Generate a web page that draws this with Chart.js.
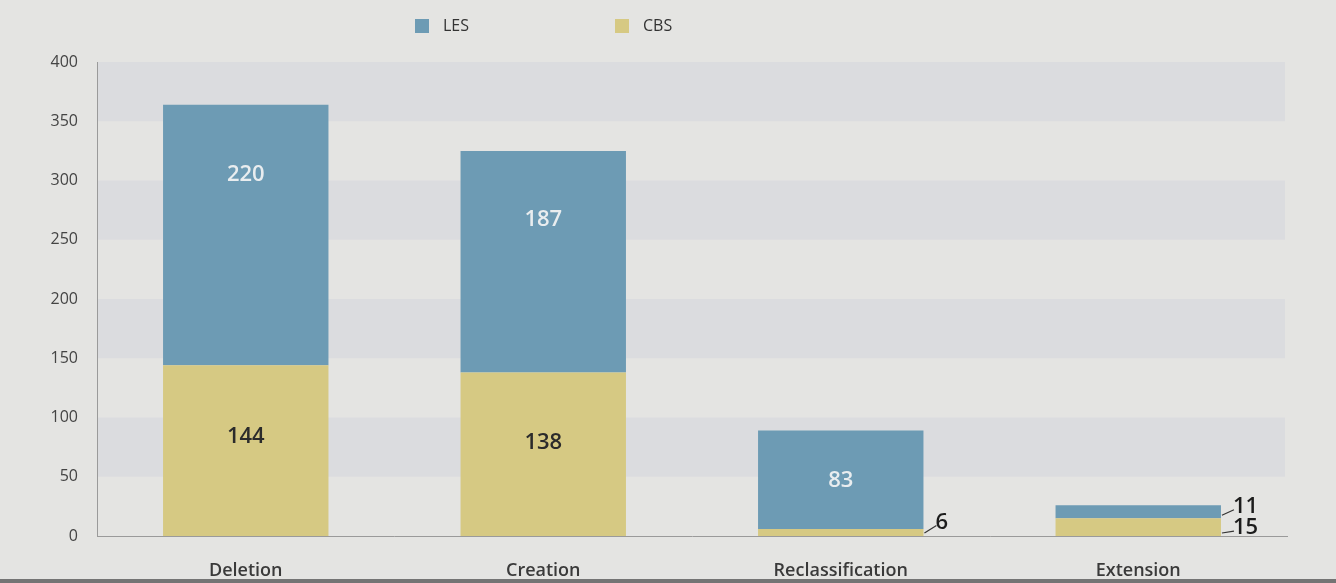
<!DOCTYPE html>
<html>
<head>
<meta charset="utf-8">
<script src="https://cdn.jsdelivr.net/npm/chart.js"></script>
<style>
  html, body { margin: 0; padding: 0; background: #e4e4e2; }
  #wrap { position: relative; width: 1336px; height: 583px; overflow: hidden; }
  #chart { position: absolute; left: 0; top: 0; }
  .key { position: absolute; top: 15px; font: 16px "Open Sans", sans-serif; color: #333; line-height: 20px; }
  .key span { display: inline-block; width: 14px; height: 14px; vertical-align: -2px; margin-right: 14px; }
  #edge { position: absolute; left: 0; bottom: 0; width: 100%; height: 4px; background: #747474; }
</style>
</head>
<body>
<div id="wrap">
  <canvas id="chart" width="1336" height="583"></canvas>
  <div class="key" style="left:415px"><span style="background:#6d9bb4"></span>LES</div>
  <div class="key" style="left:615px"><span style="background:#d6c983"></span>CBS</div>
  <div id="edge"></div>
</div>
<script>
const categories = ["Deletion", "Creation", "Reclassification", "Extension"];
const cbsValues = [144, 138, 6, 15];
const lesValues = [220, 187, 83, 11];
const yTicks = [0, 50, 100, 150, 200, 250, 300, 350, 400];

const BLUE = "#6d9bb4";
const YELLOW = "#d6c983";

// where inside labels sit, as a fraction up their segment
const labelFrac = [[0.58, 0.57, 0.5, 0.5], [0.73, 0.69, 0.49, 0.5]];
// vertical nudge for labels placed outside thin segments
const outsideDy = [[0, 0, -10, 1], [0, 0, 0, -5]];

// shaded bands behind every other 50-step
const bandsPlugin = {
  id: "bands",
  beforeDatasetsDraw(chart) {
    const { ctx, chartArea, scales } = chart;
    const y = scales.y;
    ctx.save();
    ctx.fillStyle = "#dbdcdf";
    for (let v = 50; v < 400; v += 100) {
      const top = y.getPixelForValue(v + 50);
      const bot = y.getPixelForValue(v);
      ctx.fillRect(chartArea.left + 1, top, chartArea.right - chartArea.left - 3, bot - top);
    }
    ctx.restore();
  }
};

// value labels: inside the segment, or beside it with a short leader
const valueLabels = {
  id: "valueLabels",
  afterDatasetsDraw(chart) {
    const { ctx } = chart;
    ctx.save();
    chart.data.datasets.forEach((ds, di) => {
      const meta = chart.getDatasetMeta(di);
      meta.data.forEach((bar, i) => {
        const v = ds.data[i];
        const top = bar.y, bot = bar.base;
        const h = bot - top;
        if (h > 40) {
          const y = bot - h * labelFrac[di][i];
          ctx.font = "600 22px 'Open Sans', sans-serif";
          ctx.fillStyle = di === 1 ? "#e9edef" : "#2b2b2b";
          ctx.textAlign = "center";
          ctx.textBaseline = "middle";
          ctx.fillText(String(v), bar.x, y);
        } else {
          const right = bar.x + bar.width / 2;
          const cy = (top + bot) / 2;
          const ly = cy + outsideDy[di][i];
          ctx.strokeStyle = "#333";
          ctx.lineWidth = 1.2;
          ctx.beginPath();
          ctx.moveTo(right + 1, Math.max(bot - 3, top + 1));
          ctx.lineTo(right + 13, ly + 3);
          ctx.stroke();
          ctx.font = "600 22px 'Open Sans', sans-serif";
          ctx.fillStyle = "#1c1c1c";
          ctx.textAlign = "left";
          ctx.textBaseline = "middle";
          ctx.fillText(String(v), right + 12, ly);
        }
      });
    });
    ctx.restore();
  }
};

new Chart(document.getElementById("chart"), {
  type: "bar",
  data: {
    labels: categories,
    datasets: [
      { label: "CBS", data: cbsValues, backgroundColor: YELLOW, borderWidth: 0 },
      { label: "LES", data: lesValues, backgroundColor: BLUE, borderWidth: 0 }
    ]
  },
  options: {
    responsive: false,
    animation: false,
    categoryPercentage: 1,
    barPercentage: 0.556,
    layout: { padding: { top: 62, right: 49, left: 0, bottom: 0 } },
    plugins: { legend: { display: false }, tooltip: { enabled: false } },
    scales: {
      x: {
        stacked: true,
        grid: { display: false, drawTicks: false },
        border: { color: "#9a9a9a", width: 1 },
        ticks: { color: "#3a3a3a", padding: 24, font: { family: "Open Sans", size: 18, weight: 600 } },
        afterFit(scale) { scale.height = 47; }
      },
      y: {
        stacked: true,
        min: 0,
        max: 400,
        afterBuildTicks(scale) { scale.ticks = yTicks.map(v => ({ value: v })); },
        grid: { display: false, drawTicks: false },
        border: { color: "#9a9a9a", width: 1 },
        ticks: { color: "#444", padding: 19, font: { family: "Open Sans", size: 16 } },
        afterFit(scale) { scale.width = 97; }
      }
    }
  },
  plugins: [bandsPlugin, valueLabels]
});
</script>
</body>
</html>
